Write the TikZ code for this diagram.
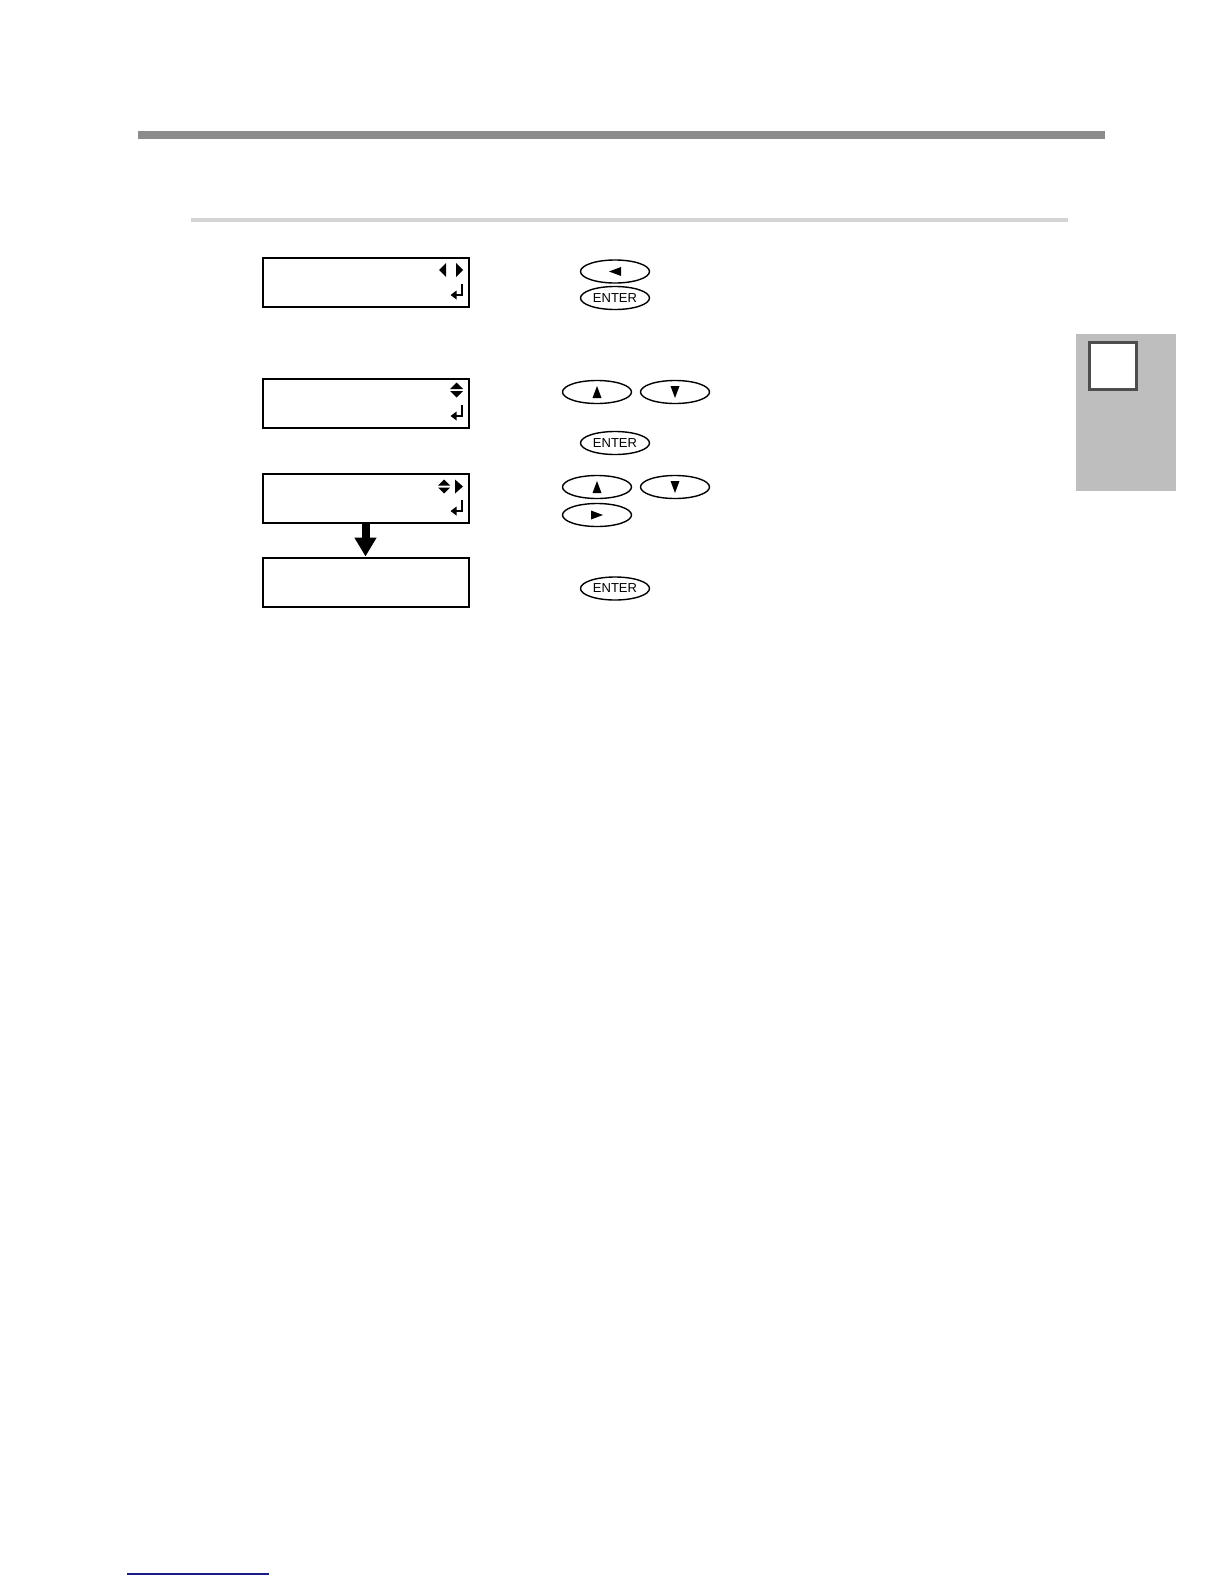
\documentclass[tikz,border=0pt]{standalone}
\usepackage{fontspec}
\newfontfamily\keyfont{Liberation Sans}
\usetikzlibrary{shapes.geometric,arrows.meta,positioning}

\definecolor{rulegray}{HTML}{8C8C8C}
\definecolor{lightrule}{HTML}{D4D4D4}
\definecolor{tabgray}{HTML}{BEBEBE}
\definecolor{tabframe}{HTML}{4D4D4D}
\definecolor{linkblue}{HTML}{1A1A8C}

% small filled triangle inside a key, #2 = direction angle
\newcommand\keytri[2]{\fill[shift={(#1.center)},rotate=#2] (-6,-4.5) -- (6,0) -- (-6,4.5) -- cycle;}
% return glyph at the right of a display
\newcommand\lcdret[1]{%
  \draw[line width=1pt,shift={(#1.east)}] (-7.5,2) -- (-7.5,13) -- (-14,13);
  \fill[shift={(#1.east)}] (-19,13) -- (-13,8.5) -- (-13,17.5) -- cycle;}

\begin{document}
\begin{tikzpicture}[
  x=0.5pt, y=-0.5pt,
  lcd/.style = {draw, line width=1pt, minimum width=103pt, minimum height=24.5pt, inner sep=0},
  key/.style = {draw, ellipse, line width=0.7pt, minimum width=34.5pt, minimum height=11.5pt,
                inner sep=0, font=\keyfont\fontsize{6.5}{6.5}\selectfont},
  bigarrow/.style = {line width=4pt, -{Triangle[width=10.5pt, length=9.5pt]}}
]
  \useasboundingbox (0,0) rectangle (1224,1584);

  \fill[rulegray] (138,131) rectangle (1105,139);
  \fill[lightrule] (191,218) rectangle (1068,222);

  \node[lcd] (lcdA) at (365.5,282) {};
  \node[lcd] (lcdB) at (365.5,403) {};
  \node[lcd] (lcdC) at (365.5,498) {};
  \node[lcd] (lcdD) at (365.5,582) {};
  \draw[bigarrow] (lcdC.south) -- (lcdD.north);

  % display glyphs
  \fill[shift={(lcdA.east)}] (-30.5,-12) -- (-23.5,-19) -- (-23.5,-5) -- cycle;
  \fill[shift={(lcdA.east)}] (-6.5,-12) -- (-13.5,-19) -- (-13.5,-5) -- cycle;
  \lcdret{lcdA}
  \fill[shift={(lcdB.east)}] (-13,-20.5) -- (-19.5,-14) -- (-6.5,-14) -- cycle;
  \fill[shift={(lcdB.east)}] (-13,-5.5) -- (-19.5,-12) -- (-6.5,-12) -- cycle;
  \lcdret{lcdB}
  \fill[shift={(lcdC.east)}] (-25.5,-18.5) -- (-31.5,-12.5) -- (-19.5,-12.5) -- cycle;
  \fill[shift={(lcdC.east)}] (-25.5,-4.5) -- (-31.5,-10.5) -- (-19.5,-10.5) -- cycle;
  \fill[shift={(lcdC.east)}] (-6.5,-11.5) -- (-14.5,-18.5) -- (-14.5,-4.5) -- cycle;
  \lcdret{lcdC}

  % keys
  \node[key] (left1)  at (615,271.5) {};
  \node[key] (enter1) at (615,298) {ENTER};
  \node[key] (up1)    at (597,392) {};
  \node[key] (down1)  at (675,392) {};
  \node[key] (enter2) at (615,443) {ENTER};
  \node[key] (up2)    at (597,487) {};
  \node[key] (down2)  at (675,487) {};
  \node[key] (right1) at (597,515) {};
  \node[key] (enter3) at (615,588.5) {ENTER};
  \keytri{left1}{180}
  \keytri{up1}{90}
  \keytri{down1}{-90}
  \keytri{up2}{90}
  \keytri{down2}{-90}
  \keytri{right1}{0}

  % chapter tab
  \fill[tabgray] (1076,334) rectangle (1176,491);
  \node[draw=tabframe, fill=white, line width=1.5pt, minimum size=23.5pt, inner sep=0] (tab) at (1112.5,365.5) {};

  \draw[linkblue, line width=0.6pt] (127,1574) -- (269,1574);
\end{tikzpicture}
\end{document}
